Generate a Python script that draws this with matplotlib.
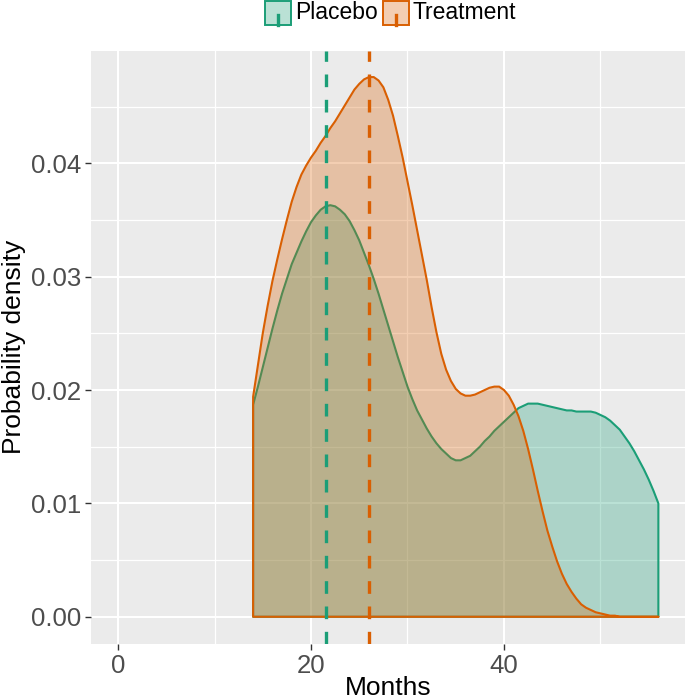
import numpy as np
import matplotlib
matplotlib.use('Agg')
import matplotlib.pyplot as plt
from matplotlib.colors import to_rgba
from matplotlib.patches import Rectangle
from matplotlib.lines import Line2D

plt.rcParams['font.family'] = ['Liberation Sans', 'DejaVu Sans']

groups = ['Placebo', 'Treatment']
colors = ['#1B9E77', '#D95F02']

# densities, every half month
months = [14.0, 14.5, 15.0, 15.5, 16.0, 16.5, 17.0, 17.5, 18.0, 18.5, 19.0, 19.5,
          20.0, 20.5, 21.0, 21.5, 22.0, 22.5, 23.0, 23.5, 24.0, 24.5, 25.0, 25.5,
          26.0, 26.5, 27.0, 27.5, 28.0, 28.5, 29.0, 29.5, 30.0, 30.5, 31.0, 31.5,
          32.0, 32.5, 33.0, 33.5, 34.0, 34.5, 35.0, 35.5, 36.0, 36.5, 37.0, 37.5,
          38.0, 38.5, 39.0, 39.5, 40.0, 40.5, 41.0, 41.5, 42.0, 42.5, 43.0, 43.5,
          44.0, 44.5, 45.0, 45.5, 46.0, 46.5, 47.0, 47.5, 48.0, 48.5, 49.0, 49.5,
          50.0, 50.5, 51.0, 51.5, 52.0, 52.5, 53.0, 53.5, 54.0, 54.5, 55.0, 55.5, 56.0]

placebo_density = [0.0187, 0.0203, 0.0220, 0.0237, 0.0254, 0.0270, 0.0285, 0.0298, 0.0311,
                   0.0321, 0.0331, 0.0340, 0.0348, 0.0354, 0.0359, 0.0362, 0.0363, 0.0362,
                   0.0359, 0.0355, 0.0349, 0.0341, 0.0332, 0.0321, 0.0310, 0.0298, 0.0285,
                   0.0271, 0.0257, 0.0243, 0.0229, 0.0216, 0.0203, 0.0192, 0.0182, 0.0174,
                   0.0166, 0.0159, 0.0153, 0.0148, 0.0144, 0.0140, 0.0138, 0.0138, 0.0140,
                   0.0142, 0.0146, 0.0150, 0.0155, 0.0159, 0.0164, 0.0168, 0.0172, 0.0176,
                   0.0180, 0.0184, 0.0186, 0.0188, 0.0188, 0.0188, 0.0187, 0.0186, 0.0185,
                   0.0184, 0.0183, 0.0182, 0.0182, 0.0181, 0.0181, 0.0181, 0.0181, 0.0180,
                   0.0178, 0.0176, 0.0173, 0.0169, 0.0165, 0.0159, 0.0153, 0.0146, 0.0138,
                   0.0130, 0.0121, 0.0111, 0.0100]

treatment_density = [0.0194, 0.0222, 0.0250, 0.0274, 0.0296, 0.0315, 0.0333, 0.0350, 0.0366,
                     0.0379, 0.0390, 0.0398, 0.0405, 0.0411, 0.0418, 0.0424, 0.0431, 0.0437,
                     0.0444, 0.0451, 0.0458, 0.0465, 0.0470, 0.0474, 0.0476, 0.0476, 0.0473,
                     0.0467, 0.0456, 0.0442, 0.0424, 0.0405, 0.0384, 0.0363, 0.0341, 0.0319,
                     0.0297, 0.0273, 0.0251, 0.0232, 0.0218, 0.0208, 0.0201, 0.0197, 0.0195,
                     0.0195, 0.0196, 0.0198, 0.0200, 0.0202, 0.0203, 0.0203, 0.0200, 0.0195,
                     0.0187, 0.0177, 0.0164, 0.0148, 0.0130, 0.0111, 0.0093, 0.0076, 0.0062,
                     0.0049, 0.0038, 0.0029, 0.0022, 0.0016, 0.0011, 0.0008, 0.0006, 0.0004,
                     0.0003, 0.0002, 0.0001, 0.0001, 0.0000, 0.0000, 0.0000, 0.0000, 0.0000,
                     0.0000, 0.0000, 0.0000, 0.0000]

medians = [21.6, 26.0]

W, H = 685, 699
fig = plt.figure(figsize=(W / 100, H / 100), dpi=100)
ax = fig.add_axes([91 / W, 1 - 644 / H, (685 - 91) / W, (644 - 51) / H])
ax.set_facecolor('#EBEBEB')

for i, (d, c) in enumerate(zip([placebo_density, treatment_density], colors)):
    xs = [months[0]] + months + [months[-1]]
    ys = [0] + d + [0]
    ax.fill(xs, ys, facecolor=to_rgba(c, 0.3), edgecolor=c, lw=1.5,
            joinstyle='round', zorder=2 + i)

for med, c in zip(medians, colors):
    ax.axvline(med, color=c, lw=2.4, linestyle=(0, (3.8, 3.8)), zorder=5)

ax.set_xlim(-2.8, 58.76)
ax.set_ylim(-0.0024, 0.0499)
ax.set_xticks([0, 20, 40])
ax.set_xticks([10, 30, 50], minor=True)
ax.set_yticks([0, 0.01, 0.02, 0.03, 0.04])
ax.set_yticklabels(['0.00', '0.01', '0.02', '0.03', '0.04'])
ax.set_yticks([0.005, 0.015, 0.025, 0.035, 0.045], minor=True)
ax.set_axisbelow(True)
ax.grid(which='major', color='white', lw=1.5)
ax.grid(which='minor', color='white', lw=0.9)
ax.tick_params(which='major', length=4, width=1, color='#333333',
               labelsize=18.5, labelcolor='#4D4D4D', pad=3)
ax.tick_params(which='minor', length=0)
for s in ax.spines.values():
    s.set_visible(False)

fig.text(388 / W, 1 - 688 / H, 'Months', fontsize=19, ha='center', va='center')
fig.text(14 / W, 1 - 347 / H, 'Probability density', fontsize=19, rotation=90,
         ha='center', va='center')

# legend on top
key_x = [265, 383]
text_x = [295, 413]
for g, c, kx, tx in zip(groups, colors, key_x, text_x):
    fig.add_artist(Rectangle((kx / W, 1 - 25 / H), 26 / W, 24 / H,
                             facecolor=to_rgba(c, 0.3), edgecolor=c, lw=1.4,
                             transform=fig.transFigure))
    fig.add_artist(Line2D([(kx + 13) / W] * 2, [1 - 25 / H, 1 - 15 / H],
                          color=c, lw=2.4, transform=fig.transFigure))
    fig.text(tx / W, 1 - 19 / H, g, fontsize=16.5, ha='left', va='baseline')

fig.savefig('out.png', dpi=100)
